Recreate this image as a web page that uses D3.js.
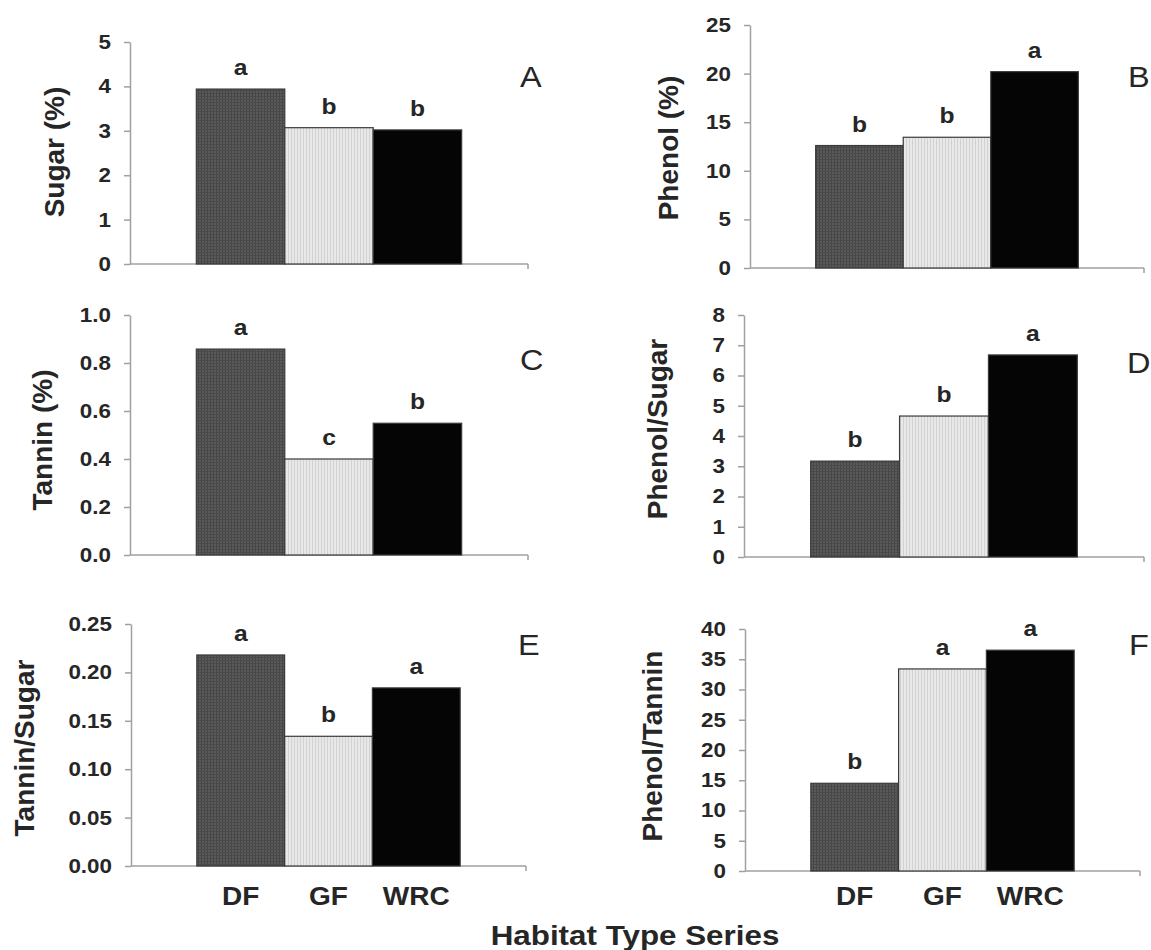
<!DOCTYPE html>
<html>
<head>
<meta charset="utf-8">
<script src="https://cdn.jsdelivr.net/npm/d3@7"></script>
<style>
  html, body { margin: 0; padding: 0; background: #fff; }
  svg { display: block; font-family: "Liberation Sans", Arial, sans-serif; }
</style>
</head>
<body>
<svg id="chart" width="1151" height="950"></svg>
<script>
// habitat types (x categories)
const categories = ["DF", "GF", "WRC"];

// panel values
const sugar = [3.94, 3.07, 3.02];
const phenol = [12.6, 13.45, 20.2];
const tannin = [0.858, 0.40, 0.549];
const phenolSugar = [3.17, 4.66, 6.68];
const tanninSugar = [0.218, 0.134, 0.184];
const phenolTannin = [14.5, 33.4, 36.5];

// significance letters above bars
const sugarLetters = ["a", "b", "b"];
const phenolLetters = ["b", "b", "a"];
const tanninLetters = ["a", "c", "b"];
const phenolSugarLetters = ["b", "b", "a"];
const tanninSugarLetters = ["a", "b", "a"];
const phenolTanninLetters = ["b", "a", "a"];

// y tick values
const sugarTicks = [0, 1, 2, 3, 4, 5];
const phenolTicks = [0, 5, 10, 15, 20, 25];
const tanninTicks = [0, 0.2, 0.4, 0.6, 0.8, 1.0];
const phenolSugarTicks = [0, 1, 2, 3, 4, 5, 6, 7, 8];
const tanninSugarTicks = [0, 0.05, 0.10, 0.15, 0.20, 0.25];
const phenolTanninTicks = [0, 5, 10, 15, 20, 25, 30, 35, 40];

const yTitles = ["Sugar (%)", "Phenol (%)", "Tannin (%)", "Phenol/Sugar", "Tannin/Sugar", "Phenol/Tannin"];
const panelLetters = ["A", "B", "C", "D", "E", "F"];
const xTitle = "Habitat Type Series";

// layout for each panel (pixels)
const panels = [
  { values: sugar, letters: sugarLetters, ticks: sugarTicks, fmt: d3.format("d"),
    ax: 130, axEnd: 528, y0: 264, y1: 42, titleX: 64, titleY: 152, letX: 520, letY: 87 },
  { values: phenol, letters: phenolLetters, ticks: phenolTicks, fmt: d3.format("d"),
    ax: 750, axEnd: 1144, y0: 268, y1: 25, titleX: 678, titleY: 148, letX: 1128, letY: 87 },
  { values: tannin, letters: tanninLetters, ticks: tanninTicks, fmt: d3.format(".1f"),
    ax: 130, axEnd: 528, y0: 555, y1: 315, titleX: 52, titleY: 440, letX: 520, letY: 370 },
  { values: phenolSugar, letters: phenolSugarLetters, ticks: phenolSugarTicks, fmt: d3.format("d"),
    ax: 744, axEnd: 1144, y0: 557, y1: 315, titleX: 667, titleY: 429, letX: 1127, letY: 373 },
  { values: tanninSugar, letters: tanninSugarLetters, ticks: tanninSugarTicks, fmt: d3.format(".2f"),
    ax: 131, axEnd: 526, y0: 866, y1: 624, titleX: 34, titleY: 748, letX: 518, letY: 655, xLabels: true },
  { values: phenolTannin, letters: phenolTanninLetters, ticks: phenolTanninTicks, fmt: d3.format("d"),
    ax: 745, axEnd: 1140, y0: 871, y1: 629, titleX: 662, titleY: 746, letX: 1129, letY: 655, xLabels: true }
];

const stretch = 1.12;   // the scanned figure is a bit wide
const axisColor = "#a0a0a0";
const textColor = "#262626";

const svg = d3.select("#chart");

// bar fills
const defs = svg.append("defs");
const pDF = defs.append("pattern").attr("id", "fillDF")
  .attr("width", 3).attr("height", 3).attr("patternUnits", "userSpaceOnUse");
pDF.append("rect").attr("width", 3).attr("height", 3).attr("fill", "#5a5a5a");
pDF.append("rect").attr("width", 1).attr("height", 3).attr("fill", "#444");
pDF.append("rect").attr("width", 3).attr("height", 1).attr("fill", "#4a4a4a");

const pGF = defs.append("pattern").attr("id", "fillGF")
  .attr("width", 3).attr("height", 3).attr("patternUnits", "userSpaceOnUse");
pGF.append("rect").attr("width", 3).attr("height", 3).attr("fill", "#e8e8e8");
pGF.append("rect").attr("width", 1).attr("height", 3).attr("fill", "#d2d2d2");

const fills = ["url(#fillDF)", "url(#fillGF)", "#050505"];

panels.forEach((p, i) => {
  const g = svg.append("g");

  const x = d3.scaleBand()
    .domain(categories)
    .range([p.ax, p.axEnd])
    .paddingInner(0)
    .paddingOuter(0.75);

  const y = d3.scaleLinear()
    .domain([0, d3.max(p.ticks)])
    .range([p.y0, p.y1]);

  // y axis
  const yAxis = d3.axisLeft(y)
    .tickValues(p.ticks)
    .tickFormat(p.fmt)
    .tickSize(6)
    .tickSizeOuter(0)
    .tickPadding(11);

  const ya = g.append("g")
    .attr("transform", `translate(${p.ax},0)`)
    .call(yAxis);
  ya.select(".domain").attr("stroke", axisColor).attr("stroke-width", 1.5);
  ya.selectAll(".tick line").attr("stroke", axisColor).attr("stroke-width", 1.5);
  ya.selectAll(".tick text")
    .attr("transform", `scale(${stretch},1)`)
    .attr("fill", textColor)
    .style("font-size", "20px")
    .style("font-weight", "bold");

  // x axis line
  g.append("line")
    .attr("x1", p.ax).attr("x2", p.axEnd)
    .attr("y1", p.y0).attr("y2", p.y0)
    .attr("stroke", axisColor).attr("stroke-width", 1.5);
  g.append("line")
    .attr("x1", p.axEnd).attr("x2", p.axEnd)
    .attr("y1", p.y0).attr("y2", p.y0 + 5)
    .attr("stroke", axisColor).attr("stroke-width", 1.5);

  // bars
  g.selectAll("rect.bar")
    .data(p.values)
    .enter()
    .append("rect")
    .attr("class", "bar")
    .attr("x", (d, j) => x(categories[j]))
    .attr("y", d => y(d))
    .attr("width", x.bandwidth())
    .attr("height", d => p.y0 - y(d))
    .attr("fill", (d, j) => fills[j])
    .attr("stroke", "#3a3a3a")
    .attr("stroke-width", 1.2);

  // significance letters
  g.selectAll("text.sig")
    .data(p.values)
    .enter()
    .append("text")
    .attr("class", "sig")
    .attr("transform", (d, j) =>
      `translate(${x(categories[j]) + x.bandwidth() / 2},${y(d) - 14}) scale(${stretch},1)`)
    .attr("text-anchor", "middle")
    .attr("fill", textColor)
    .style("font-size", "22px")
    .style("font-weight", "bold")
    .text((d, j) => p.letters[j]);

  // panel letter
  g.append("text")
    .attr("transform", `translate(${p.letX},${p.letY}) scale(${stretch},1)`)
    .attr("fill", textColor)
    .style("font-size", "29px")
    .text(panelLetters[i]);

  // y title
  g.append("text")
    .attr("transform", `translate(${p.titleX},${p.titleY}) rotate(-90)`)
    .attr("text-anchor", "middle")
    .attr("fill", textColor)
    .style("font-size", "28px")
    .style("font-weight", "bold")
    .text(yTitles[i]);

  // category labels on bottom row
  if (p.xLabels) {
    g.selectAll("text.cat")
      .data(categories)
      .enter()
      .append("text")
      .attr("class", "cat")
      .attr("transform", d => `translate(${x(d) + x.bandwidth() / 2},905) scale(${stretch},1)`)
      .attr("text-anchor", "middle")
      .attr("fill", textColor)
      .style("font-size", "25px")
      .style("font-weight", "bold")
      .text(d => d);
  }
});

// shared x title
svg.append("text")
  .attr("transform", `translate(635,945) scale(${stretch},1)`)
  .attr("text-anchor", "middle")
  .attr("fill", textColor)
  .style("font-size", "28px")
  .style("font-weight", "bold")
  .text(xTitle);
</script>
</body>
</html>
